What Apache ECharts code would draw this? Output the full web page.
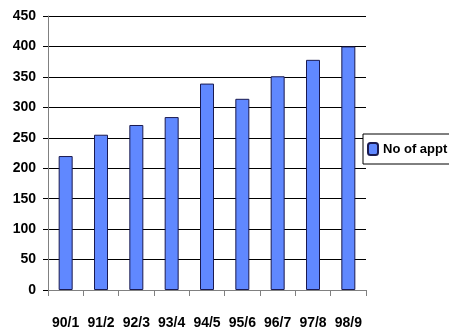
<!DOCTYPE html>
<html>
<head>
<meta charset="utf-8">
<script src="https://cdn.jsdelivr.net/npm/echarts@6/dist/echarts.min.js"></script>
<style>
  html, body { margin: 0; padding: 0; background: #fff; }
  #chart { width: 449px; height: 330px; }
</style>
</head>
<body>
<div id="chart"></div>
<script>
const categories = ['90/1', '91/2', '92/3', '93/4', '94/5', '95/6', '96/7', '97/8', '98/9']
const appointments = [220, 255, 271, 284, 339, 314, 351, 378, 400]
const seriesName = 'No of appt'

const labelFont = {
  fontFamily: 'Liberation Sans, Arial, sans-serif',
  fontWeight: 'bold',
  fontSize: 14,
  color: '#000'
}

const option = {
  backgroundColor: '#fff',
  animation: false,
  grid: {
    left: 48,
    right: 83,
    top: 16,
    bottom: 40
  },
  legend: {
    data: [seriesName],
    left: 363,
    top: 134,
    orient: 'vertical',
    backgroundColor: '#fff',
    borderColor: '#000',
    borderWidth: 1,
    borderRadius: 0,
    padding: [7, 40, 7, 4],
    itemWidth: 10,
    itemHeight: 12,
    textStyle: Object.assign({}, labelFont, { fontSize: 13, lineHeight: 16 })
  },
  xAxis: {
    type: 'category',
    data: categories,
    axisLine: { lineStyle: { color: '#808080', width: 1 } },
    axisTick: { show: true, length: 6, lineStyle: { color: '#808080' } },
    axisLabel: Object.assign({ margin: 26, interval: 0 }, labelFont)
  },
  yAxis: {
    type: 'value',
    min: 0,
    max: 450,
    interval: 50,
    axisLine: { show: true, lineStyle: { color: '#808080', width: 1 } },
    axisTick: { show: true, length: 5, lineStyle: { color: '#000' } },
    axisLabel: Object.assign({ margin: 12 }, labelFont),
    splitLine: { lineStyle: { color: '#000', width: 1 } }
  },
  series: [
    {
      name: seriesName,
      type: 'bar',
      data: appointments,
      barWidth: 14,
      itemStyle: {
        color: '#6088ff',
        borderColor: '#1a1a50',
        borderWidth: 1
      }
    }
  ]
}

const myChart = echarts.init(document.getElementById('chart'))
myChart.setOption(option)
</script>
</body>
</html>
